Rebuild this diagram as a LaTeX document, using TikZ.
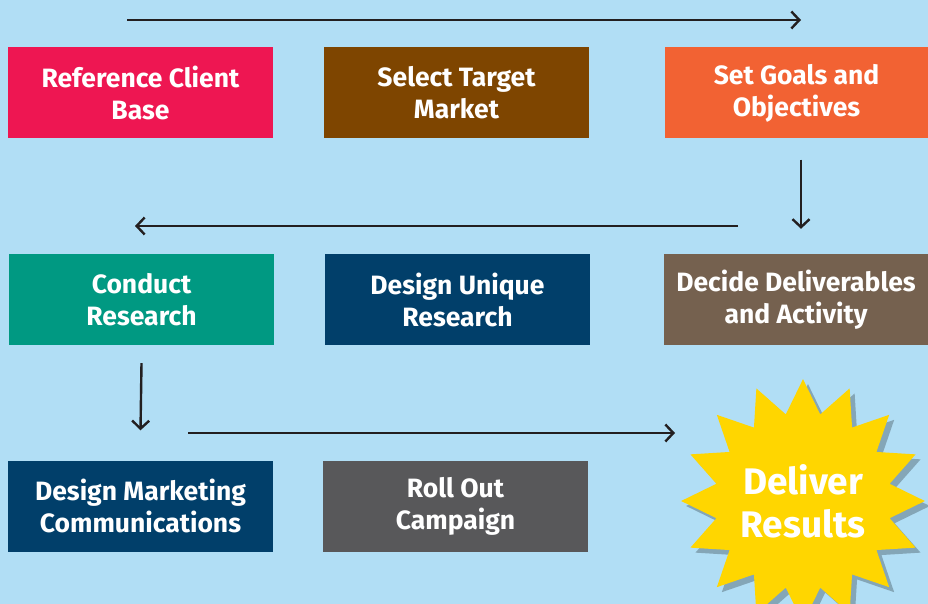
\documentclass[tikz,border=0pt]{standalone}
\usepackage{fontspec}
\setmainfont{Fira Sans}
\usetikzlibrary{shapes.geometric, shadows, arrows.meta}
\definecolor{skyback}{RGB}{177,222,245}
\definecolor{pinkbox}{RGB}{238,22,82}
\definecolor{brownbox}{RGB}{126,69,0}
\definecolor{orangebox}{RGB}{242,98,51}
\definecolor{tealbox}{RGB}{0,153,130}
\definecolor{navybox}{RGB}{1,63,106}
\definecolor{taupebox}{RGB}{117,97,79}
\definecolor{greybox}{RGB}{88,88,90}
\definecolor{starfill}{RGB}{255,214,0}
\definecolor{arrowink}{RGB}{35,31,32}
\tikzset{stepbox/.style={
    minimum width=265pt, minimum height=91pt, inner sep=0pt,
    text=white, align=center, font=\fontsize{26.5}{32}\selectfont\bfseries
  },
  flow/.style={draw=arrowink, line width=2.4pt,
    -{Straight Barb[length=8pt, width=17pt, line width=2.4pt]}
  }
}

\begin{document}
\begin{tikzpicture}[x=1pt, y=-1pt]
      \useasboundingbox (0,0) rectangle (928,604);
      \fill[skyback] (0,0) rectangle (928,604);
      % first row
      \node[stepbox, fill=pinkbox] (refbase) at (140.5,93) {Reference Client\\Base};
      \node[stepbox, fill=brownbox] (target) at (456.5,93) {Select Target\\Market};
      \node[stepbox, fill=orangebox, minimum width=263pt] (goals) at (796.5,93) {Set Goals and\\Objectives};
      % second row
      \node[stepbox, fill=tealbox] (research) at (141.5,299.5) {Conduct\\Research};
      \node[stepbox, fill=navybox] (unique) at (457.5,299.5) {Design Unique\\Research};
      \node[stepbox, fill=taupebox, minimum width=264pt] (deliverables) at (796,299.5) {Decide Deliverables\\and Activity};
      % third row
      \node[stepbox, fill=navybox] (marcomms) at (140.5,506) {Design Marketing\\Communications};
      \node[stepbox, fill=greybox] (rollout) at (455.5,506) {Roll Out\\Campaign};
      \node[star, star points=16, star point ratio=1.38, minimum size=226pt, inner sep=0pt,
        fill=starfill, drop shadow={shadow xshift=5pt, shadow yshift=-5pt, opacity=0.25, fill=black},
        text=white, align=center, font=\fontsize{37}{43}\selectfont\bfseries] (results) at (803,501) {Deliver\\Results};
      % arrow ends
      \coordinate (toprowstart) at (127,20);
      \coordinate (toprowend) at (801,20);
      \coordinate (midrowstart) at (738,226);
      \coordinate (midrowend) at (135,226);
      \coordinate (lowrowstart) at (188,433);
      \coordinate (lowrowend) at (675,433);
      \draw[flow] (toprowstart) -- (toprowend);
      \draw[flow] ([yshift=-21pt]goals.south -| toprowend) -- ([yshift=25pt]deliverables.north -| toprowend);
      \draw[flow] (midrowstart) -- (midrowend);
      \draw[flow] ([yshift=-18pt]research.south) -- ([yshift=30pt]marcomms.north);
      \draw[flow] (lowrowstart) -- (lowrowend);
    \end{tikzpicture}
\end{document}
